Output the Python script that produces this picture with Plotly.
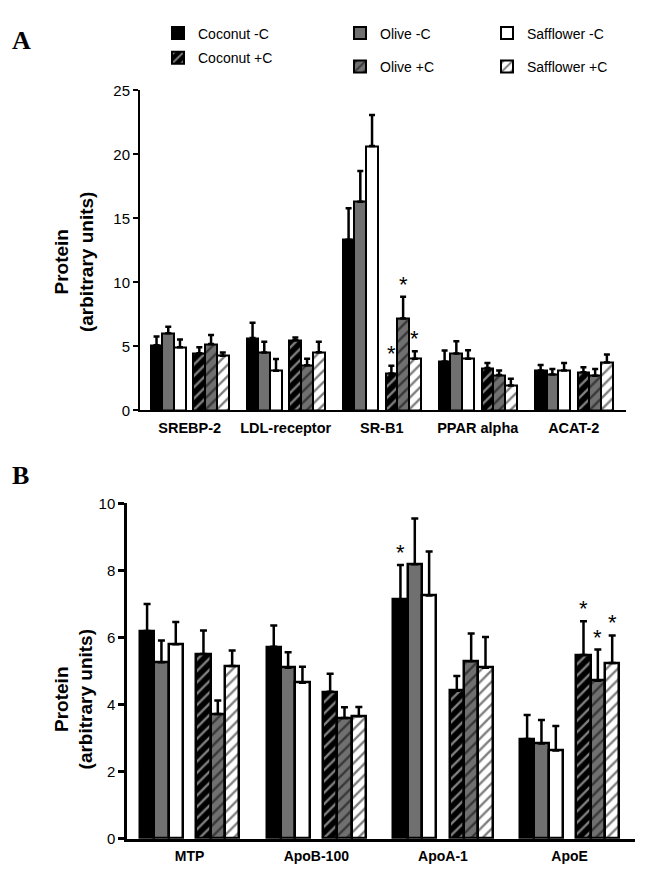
import plotly.graph_objects as go

# ---------------- DATA ----------------
series_names = ["Coconut -C", "Olive -C", "Safflower -C", "Coconut +C", "Olive +C", "Safflower +C"]

categories_A = ["SREBP-2", "LDL-receptor", "SR-B1", "PPAR alpha", "ACAT-2"]
coconut_minus_A = [5.10, 5.65, 13.34, 3.83, 3.11]
olive_minus_A = [6.03, 4.52, 16.30, 4.45, 2.81]
safflower_minus_A = [4.93, 3.09, 20.65, 4.03, 3.11]
coconut_plus_A = [4.47, 5.49, 2.88, 3.32, 2.99]
olive_plus_A = [5.18, 3.53, 7.18, 2.76, 2.70]
safflower_plus_A = [4.27, 4.55, 4.03, 1.94, 3.75]

coconut_minus_A_err = [0.67, 1.20, 2.45, 0.85, 0.44]
olive_minus_A_err = [0.51, 0.85, 2.40, 0.95, 0.43]
safflower_minus_A_err = [0.60, 0.92, 2.43, 0.67, 0.59]
coconut_plus_A_err = [0.46, 0.20, 0.60, 0.38, 0.38]
olive_plus_A_err = [0.72, 0.50, 1.70, 0.35, 0.54]
safflower_plus_A_err = [0.25, 0.82, 0.60, 0.54, 0.62]

# significance marks (*) per series, per category
sig_A = [
    [0, 0, 0, 0, 0],
    [0, 0, 0, 0, 0],
    [0, 0, 0, 0, 0],
    [0, 0, 1, 0, 0],
    [0, 0, 1, 0, 0],
    [0, 0, 1, 0, 0],
]

categories_B = ["MTP", "ApoB-100", "ApoA-1", "ApoE"]
coconut_minus_B = [6.19, 5.72, 7.14, 2.97]
olive_minus_B = [5.26, 5.10, 8.18, 2.84]
safflower_minus_B = [5.80, 4.65, 7.25, 2.63]
coconut_plus_B = [5.51, 4.38, 4.41, 5.48]
olive_plus_B = [3.72, 3.60, 5.29, 4.71]
safflower_plus_B = [5.15, 3.65, 5.10, 5.24]

coconut_minus_B_err = [0.81, 0.64, 1.02, 0.72]
olive_minus_B_err = [0.65, 0.46, 1.37, 0.70]
safflower_minus_B_err = [0.66, 0.48, 1.31, 0.73]
coconut_plus_B_err = [0.70, 0.54, 0.44, 1.00]
olive_plus_B_err = [0.40, 0.32, 0.83, 0.93]
safflower_plus_B_err = [0.46, 0.28, 0.91, 0.82]

sig_B = [
    [0, 0, 1, 0],
    [0, 0, 0, 0],
    [0, 0, 0, 0],
    [0, 0, 0, 1],
    [0, 0, 0, 1],
    [0, 0, 0, 1],
]

values_A = [coconut_minus_A, olive_minus_A, safflower_minus_A, coconut_plus_A, olive_plus_A, safflower_plus_A]
errors_A = [coconut_minus_A_err, olive_minus_A_err, safflower_minus_A_err,
            coconut_plus_A_err, olive_plus_A_err, safflower_plus_A_err]
values_B = [coconut_minus_B, olive_minus_B, safflower_minus_B, coconut_plus_B, olive_plus_B, safflower_plus_B]
errors_B = [coconut_minus_B_err, olive_minus_B_err, safflower_minus_B_err,
            coconut_plus_B_err, olive_plus_B_err, safflower_plus_B_err]

y_title = "<b>Protein<br>(arbitrary units)</b>"

# ---------------- STYLE ----------------
GRAY = "#707070"
FONT = "Liberation Sans, Arial, sans-serif"
SERIF = "Liberation Serif, Times New Roman, serif"
fills = ["#000000", GRAY, "#ffffff", "#000000", GRAY, "#ffffff"]
patterns = [
    None, None, None,
    dict(shape="/", bgcolor="#000000", fgcolor="#ffffff", size=8, solidity=0.3),
    dict(shape="/", bgcolor=GRAY, fgcolor="#000000", size=8, solidity=0.3),
    dict(shape="/", bgcolor="#ffffff", fgcolor="#000000", size=8, solidity=0.3),
]
# legend item placement (pixels): left edge, vertical centre
legend_px = [(158, 25), (340, 25), (487, 25), (158, 50), (340, 59), (487, 59)]

# layout of bars in axis units (bar width = 1)
A_tri_gap, A_period = 0.65, 8.19
B_tri_gap, B_period = 0.93, 8.83

W, H = 653, 882


def bar_pos(n, s, tri_gap, period):
    off = s + 0.5 + (tri_gap if s >= 3 else 0.0)
    return [g * period + off for g in range(n)]


fig = go.Figure()
annotations = []

panels = [
    (categories_A, values_A, errors_A, sig_A, A_tri_gap, A_period, "x", "y", 3.0, 2.0),
    (categories_B, values_B, errors_B, sig_B, B_tri_gap, B_period, "x2", "y2", 3.5, 2.5),
]

for pi, (cats, vals, errs, sigs, tg, per, xa, ya, capw, lw) in enumerate(panels):
    n = len(cats)
    for s in range(6):
        xs = bar_pos(n, s, tg, per)
        marker = dict(color=fills[s], line=dict(color="#000000", width=lw))
        if patterns[s] is not None:
            marker["pattern"] = patterns[s]
        fig.add_trace(go.Bar(
            x=xs, y=vals[s], width=1.0, xaxis=xa, yaxis=ya,
            name=series_names[s], marker=marker,
            showlegend=(pi == 0),
            legend="legend" if s == 0 else "legend%d" % (s + 1),
            error_y=dict(type="data", array=errs[s], arrayminus=[0] * n, symmetric=False,
                         color="#000000", thickness=2.5, width=capw),
        ))
        for i in range(n):
            if sigs[s][i]:
                annotations.append(dict(
                    x=xs[i], y=vals[s][i] + errs[s][i], xref=xa, yref=ya,
                    text="*", showarrow=False, yanchor="bottom", yshift=-2,
                    font=dict(family=FONT, size=22, color="#000000")))

axis_common = dict(showline=True, linecolor="#000000", showgrid=False, zeroline=False,
                   tickcolor="#000000")

centers_A = [g * A_period + (6 + A_tri_gap) / 2 for g in range(len(categories_A))]
centers_B = [g * B_period + (6 + B_tri_gap) / 2 for g in range(len(categories_B))]

layout = dict(
    width=W, height=H, margin=dict(l=0, r=0, t=0, b=0),
    paper_bgcolor="#ffffff", plot_bgcolor="#ffffff",
    font=dict(family=FONT, color="#000000"),
    barmode="overlay", bargap=0,
    xaxis=dict(domain=[140 / W, 626 / W], anchor="y",
               range=[-0.91, 4 * A_period + 6 + A_tri_gap + 1.13],
               tickvals=centers_A, ticktext=categories_A, ticks="",
               tickfont=dict(size=14.5, weight="bold"), linewidth=2,
               ticklabelstandoff=3, **axis_common),
    yaxis=dict(domain=[1 - 409.3 / H, 1 - 83 / H], anchor="x", range=[0, 25], dtick=5,
               ticks="outside", ticklen=5, tickwidth=2, linewidth=2,
               tickfont=dict(size=15), **axis_common),
    xaxis2=dict(domain=[127 / W, 635 / W], anchor="y2",
                range=[-0.9, 3 * B_period + 6 + B_tri_gap + 1.09],
                tickvals=centers_B, ticktext=categories_B, ticks="",
                tickfont=dict(size=14, weight="bold"), linewidth=2.5,
                ticklabelstandoff=3, **axis_common),
    yaxis2=dict(domain=[1 - 846 / H, 1 - 504 / H], anchor="x2", range=[0, 10], dtick=2,
                ticks="outside", ticklen=6, tickwidth=2.5, linewidth=2.5,
                tickfont=dict(size=15), **axis_common),
)
for s in range(6):
    key = "legend" if s == 0 else "legend%d" % (s + 1)
    lx, ly = legend_px[s]
    layout[key] = dict(x=lx / W, y=1 - ly / H, xanchor="left", yanchor="middle",
                       orientation="h", font=dict(size=14), bgcolor="rgba(0,0,0,0)")
fig.update_layout(**layout)

# y-axis titles
for cy in (258, 704):
    annotations.append(dict(x=74 / W, y=1 - cy / H, xref="paper", yref="paper",
                            xanchor="center", yanchor="middle", textangle=-90,
                            text=y_title, showarrow=False,
                            font=dict(family=FONT, size=19, color="#000000")))
# panel letters
annotations.append(dict(x=10 / W, y=1 - 32 / H, xref="paper", yref="paper", xanchor="left",
                        yanchor="middle", text="<b>A</b>", showarrow=False,
                        font=dict(family=SERIF, size=26)))
annotations.append(dict(x=10 / W, y=1 - 476 / H, xref="paper", yref="paper", xanchor="left",
                        yanchor="middle", text="<b>B</b>", showarrow=False,
                        font=dict(family=SERIF, size=26)))
fig.update_layout(annotations=annotations)

fig.write_html("out.html", config={"displayModeBar": False},
               post_script="document.body.style.margin='0';")
